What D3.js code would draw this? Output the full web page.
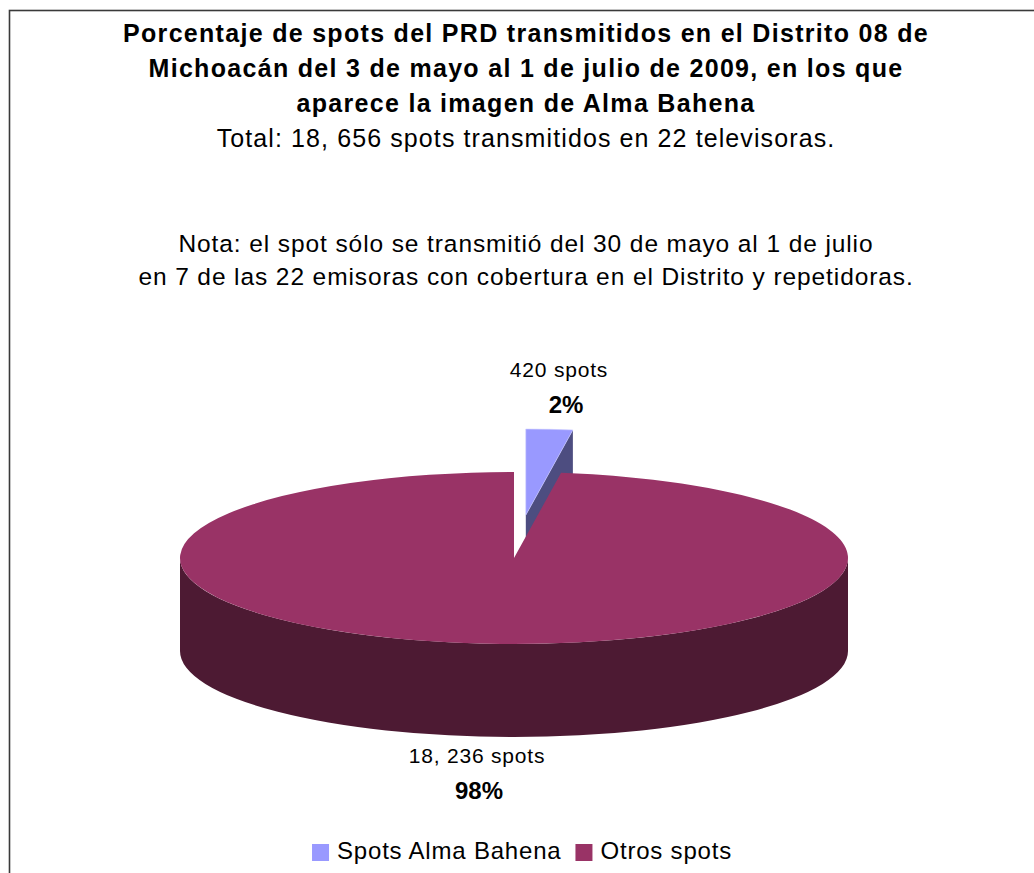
<!DOCTYPE html>
<html>
<head>
<meta charset="utf-8">
<script src="https://cdn.jsdelivr.net/npm/d3@7"></script>
<style>
  body { margin: 0; background: #fff; }
  text { font-family: "Liberation Sans", Arial, sans-serif; }
</style>
</head>
<body>
<svg id="chart" width="1034" height="873"></svg>
<script>
// ---- data ----
var categories = ["Spots Alma Bahena", "Otros spots"];
var spots = [420, 18236];
var countLabels = ["420 spots", "18, 236 spots"];
var pctLabels = ["2%", "98%"];
var titleLines = [
  "Porcentaje de spots del PRD transmitidos en el Distrito 08 de",
  "Michoacán del 3 de mayo al 1 de julio de 2009, en los que",
  "aparece la imagen de Alma Bahena"
];
var subtitle = "Total: 18, 656 spots transmitidos en 22 televisoras.";
var noteLines = [
  "Nota: el spot sólo se transmitió del 30 de mayo al 1 de julio",
  "en 7 de las 22 emisoras con cobertura en el Distrito y repetidoras."
];
var topColors = ["#9999ff", "#993366"];
var sideColors = ["#4d4d80", "#4d1a33"];

// ---- setup ----
var svg = d3.select("#chart");
var midX = 526;

// frame (right and bottom edges fall outside the picture)
svg.append("rect")
  .attr("x", 9.5).attr("y", 10.5)
  .attr("width", 1100).attr("height", 1000)
  .attr("fill", "none").attr("stroke", "#3a3a3a").attr("stroke-width", 1.6);

//======== titles ========
svg.selectAll("text.title").data(titleLines).enter().append("text")
  .attr("class", "title")
  .attr("x", midX).attr("y", (d, i) => 42 + i * 35)
  .attr("text-anchor", "middle")
  .style("font-size", "25px").style("font-weight", "bold")
  .style("letter-spacing", "1.3px")
  .text(d => d);

svg.append("text")
  .attr("x", midX).attr("y", 147)
  .attr("text-anchor", "middle")
  .style("font-size", "25px").style("letter-spacing", "1.1px")
  .text(subtitle);

svg.selectAll("text.note").data(noteLines).enter().append("text")
  .attr("class", "note")
  .attr("x", midX).attr("y", (d, i) => 252 + i * 33)
  .attr("text-anchor", "middle")
  .style("font-size", "24.5px").style("letter-spacing", "0.9px")
  .text(d => d);

//======== 3D pie ========
var cx = 514, cy = 558, rx = 334, ry = 86, depth = 93, explode = 0.5;

var pie = d3.pie().sort(null).value(d => d);
var arcs = pie(spots);

function pt(c, a, dy) {
  return [c[0] + rx * Math.sin(a), c[1] - ry * Math.cos(a) + (dy || 0)];
}
function topPath(c, a0, a1) {
  var p0 = pt(c, a0), p1 = pt(c, a1);
  var large = (a1 - a0) > Math.PI ? 1 : 0;
  return `M${c[0]},${c[1]}L${p0}A${rx},${ry} 0 ${large} 1 ${p1}Z`;
}
function sidePath(c, a0, a1) {
  var p0 = pt(c, a0), p1 = pt(c, a1), q0 = pt(c, a0, depth), q1 = pt(c, a1, depth);
  return `M${p0}A${rx},${ry} 0 0 1 ${p1}L${q1}A${rx},${ry} 0 0 0 ${q0}Z`;
}
function facePath(c, a) {
  var p = pt(c, a), q = pt(c, a, depth);
  return `M${c[0]},${c[1]}L${p}L${q}L${c[0]},${c[1] + depth}Z`;
}

// slice centres: the small slice is pulled out along its middle angle
var centres = arcs.map(function(d, i) {
  if (i !== 0) return [cx, cy];
  var m = (d.startAngle + d.endAngle) / 2;
  return [cx + rx * Math.sin(m) * explode, cy - ry * Math.cos(m) * explode];
});

// small slice (behind): its end face, then its top
var g = svg.append("g");
var s = arcs[0], c0 = centres[0];
g.append("path").attr("d", facePath(c0, s.endAngle)).attr("fill", sideColors[0]);
g.append("path").attr("d", topPath(c0, s.startAngle, s.endAngle)).attr("fill", topColors[0])
  .attr("stroke", "#c8c8ff").attr("stroke-width", 0.6);

// big slice: front wall, then top
var b = arcs[1], c1 = centres[1];
g.append("path").attr("d", sidePath(c1, Math.PI / 2, Math.PI * 1.5)).attr("fill", sideColors[1]);
g.append("path").attr("d", topPath(c1, b.startAngle, b.endAngle)).attr("fill", topColors[1]);

//======== data labels ========
var labelPos = [[559, 377], [477, 763]];
svg.selectAll("text.count").data(countLabels).enter().append("text")
  .attr("x", (d, i) => labelPos[i][0]).attr("y", (d, i) => labelPos[i][1])
  .attr("text-anchor", "middle")
  .style("font-size", "21px").style("letter-spacing", "0.8px")
  .text(d => d);
svg.selectAll("text.pct").data(pctLabels).enter().append("text")
  .attr("x", (d, i) => labelPos[i][0] + (i === 0 ? 7 : 2)).attr("y", (d, i) => labelPos[i][1] + 36)
  .attr("text-anchor", "middle")
  .style("font-size", "24px").style("font-weight", "bold")
  .text(d => d);

//======== legend ========
var leg = svg.append("g");
var lx = 0;
categories.forEach(function(name, i) {
  leg.append("rect").attr("x", lx).attr("y", -15).attr("width", 17).attr("height", 17)
    .attr("fill", topColors[i]);
  var t = leg.append("text").attr("x", lx + 25).attr("y", 0)
    .style("font-size", "24px").style("letter-spacing", "0.8px").text(name);
  lx += 25 + t.node().getComputedTextLength() + 14;
});
lx -= 14;
leg.attr("transform", `translate(${522 - lx / 2},859)`);
</script>
</body>
</html>
